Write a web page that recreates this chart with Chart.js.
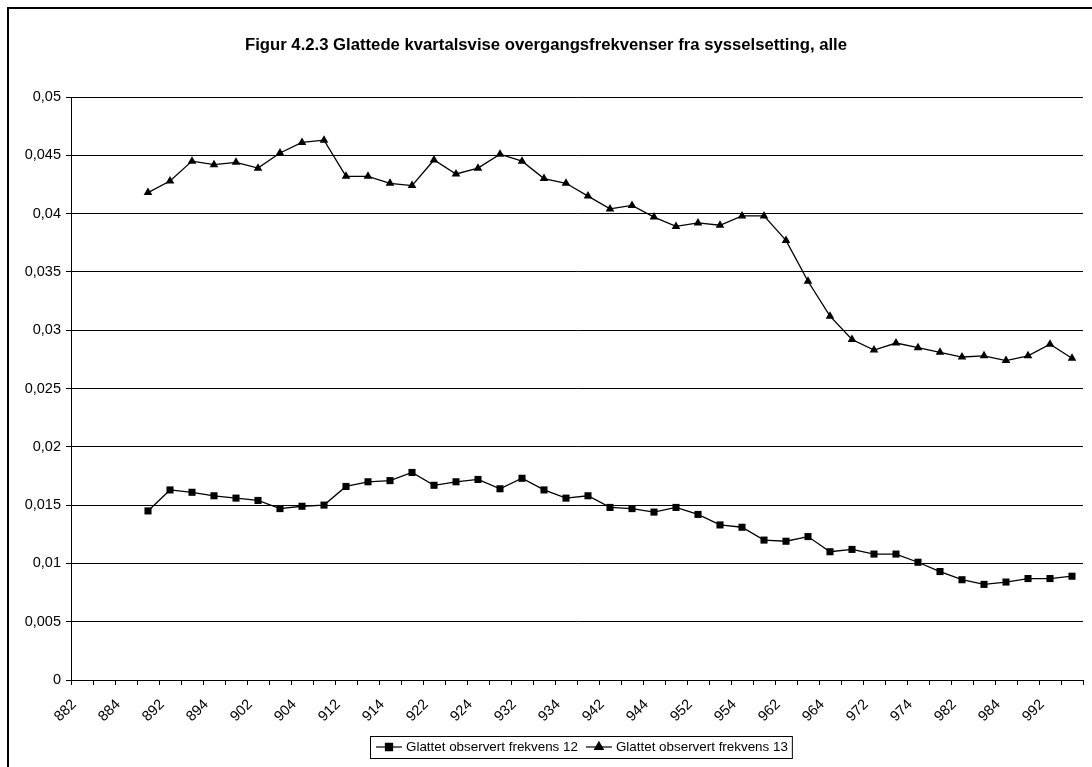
<!DOCTYPE html>
<html>
<head>
<meta charset="utf-8">
<script src="https://cdn.jsdelivr.net/npm/chart.js@4/dist/chart.umd.min.js"></script>
<style>
  body { margin: 0; background: #fff; }
  #wrap { width: 1092px; height: 767px; }
</style>
</head>
<body>
<div id="wrap"><canvas id="myChart" width="1092" height="767"></canvas></div>
<script>
// kvartaler (år + kvartal)
const quarters = [
  '882', '883', '884',
  '891', '892', '893', '894', '901', '902', '903', '904',
  '911', '912', '913', '914', '921', '922', '923', '924',
  '931', '932', '933', '934', '941', '942', '943', '944',
  '951', '952', '953', '954', '961', '962', '963', '964',
  '971', '972', '973', '974', '981', '982', '983', '984',
  '991', '992', '993'
];

// Glattet observert frekvens 12 (fra 891)
const frekvens12 = [
  null, null, null,
  0.0145, 0.0163, 0.0161, 0.0158, 0.0156, 0.0154, 0.0147, 0.0149, 0.0150, 0.0166,
  0.0170, 0.0171, 0.0178, 0.0167, 0.0170, 0.0172, 0.0164, 0.0173, 0.0163, 0.0156,
  0.0158, 0.0148, 0.0147, 0.0144, 0.0148, 0.0142, 0.0133, 0.0131, 0.0120, 0.0119,
  0.0123, 0.0110, 0.0112, 0.0108, 0.0108, 0.0101, 0.0093, 0.0086, 0.0082, 0.0084,
  0.0087, 0.0087, 0.0089
];

// Glattet observert frekvens 13 (fra 891)
const frekvens13 = [
  null, null, null,
  0.0418, 0.0428, 0.0445, 0.0442, 0.0444, 0.0439, 0.0452, 0.0461, 0.0463, 0.0432,
  0.0432, 0.0426, 0.0424, 0.0446, 0.0434, 0.0439, 0.0451, 0.0445, 0.0430, 0.0426,
  0.0415, 0.0404, 0.0407, 0.0397, 0.0389, 0.0392, 0.0390, 0.0398, 0.0398, 0.0377,
  0.0342, 0.0312, 0.0292, 0.0283, 0.0289, 0.0285, 0.0281, 0.0277, 0.0278, 0.0274,
  0.0278, 0.0288, 0.0276
];

const title = 'Figur 4.2.3 Glattede kvartalsvise overgangsfrekvenser fra sysselsetting, alle';
const FONT = 'Arial, "Liberation Sans", sans-serif';

// ramme, tittel og forklaring tegnes selv
const framePlugin = {
  id: 'frame',
  beforeDraw(chart) {
    const ctx = chart.ctx;
    ctx.save();
    ctx.fillStyle = '#fff';
    ctx.fillRect(0, 0, chart.width, chart.height);
    ctx.strokeStyle = '#000';
    ctx.lineWidth = 2;
    ctx.beginPath();
    ctx.moveTo(8, chart.height);
    ctx.lineTo(8, 8);
    ctx.lineTo(chart.width, 8);
    ctx.stroke();
    ctx.fillStyle = '#000';
    ctx.font = 'bold 16.7px ' + FONT;
    ctx.textAlign = 'center';
    ctx.textBaseline = 'middle';
    ctx.fillText(title, 546, 45);
    ctx.restore();
  },
  afterDraw(chart) {
    const ctx = chart.ctx;
    ctx.save();
    ctx.font = '13.4px ' + FONT;
    ctx.textBaseline = 'middle';
    ctx.fillStyle = '#000';
    const top = 736, h = 22, cy = top + h / 2;
    let x = 376;
    const left = 370;
    chart.data.datasets.forEach(function(ds) {
      ctx.strokeStyle = '#000';
      ctx.lineWidth = 1.2;
      ctx.beginPath();
      ctx.moveTo(x, cy);
      ctx.lineTo(x + 26, cy);
      ctx.stroke();
      Chart.helpers.drawPoint(ctx, {pointStyle: ds.pointStyle, radius: ds.pointRadius, borderWidth: 1}, x + 13, cy);
      ctx.fill();
      x += 30;
      ctx.fillText(ds.label, x, cy);
      x += ctx.measureText(ds.label).width + 8;
    });
    ctx.strokeStyle = '#000';
    ctx.lineWidth = 1;
    ctx.strokeRect(left + 0.5, top + 0.5, x - 8 + 4 - left, h);
    ctx.restore();
  }
};

const ctx = document.getElementById('myChart').getContext('2d');
const myChart = new Chart(ctx, {
  type: 'line',
  data: {
    labels: quarters,
    datasets: [
      {
        label: 'Glattet observert frekvens 12',
        data: frekvens12,
        borderColor: '#000',
        backgroundColor: '#000',
        borderWidth: 1.3,
        pointStyle: 'rect',
        pointRadius: 5,
        pointBorderWidth: 0,
        tension: 0
      },
      {
        label: 'Glattet observert frekvens 13',
        data: frekvens13,
        borderColor: '#000',
        backgroundColor: '#000',
        borderWidth: 1.3,
        pointStyle: 'triangle',
        pointRadius: 5,
        pointBorderWidth: 0,
        tension: 0
      }
    ]
  },
  options: {
    responsive: false,
    animation: false,
    devicePixelRatio: 1,
    layout: { padding: { left: 0, right: 9, top: 97, bottom: 0 } },
    plugins: {
      legend: { display: false },
      title: { display: false },
      tooltip: { enabled: false }
    },
    scales: {
      x: {
        offset: true,
        afterFit: function(scale) {
          scale.height = 87;
          scale.paddingRight = 0;
        },
        grid: { offset: true, drawOnChartArea: false, tickLength: 5, color: '#000' },
        border: { color: '#000', width: 1 },
        ticks: {
          autoSkip: false,
          minRotation: 45,
          maxRotation: 45,
          padding: 11,
          labelOffset: -8,
          color: '#000',
          font: { family: FONT, size: 14.5 },
          callback: function(v, i) { return i % 2 === 0 ? this.getLabelForValue(v) : ''; }
        }
      },
      y: {
        min: 0,
        max: 0.05,
        afterFit: function(scale) { scale.width = 71; },
        grid: { color: '#000', lineWidth: 1, tickLength: 5 },
        border: { color: '#000', width: 1 },
        ticks: {
          stepSize: 0.005,
          padding: 5,
          color: '#000',
          font: { family: FONT, size: 14.5 },
          callback: function(v) { return String(Number(v.toFixed(3))).replace('.', ','); }
        }
      }
    }
  },
  plugins: [framePlugin]
});
</script>
</body>
</html>
